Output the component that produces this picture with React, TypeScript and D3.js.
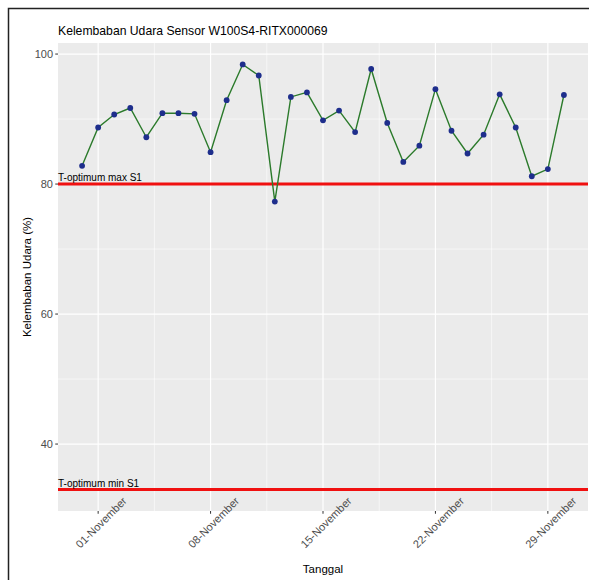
import React from "react";
import * as d3 from "d3";

const title = "Kelembaban Udara Sensor W100S4-RITX000069";
const xTitle = "Tanggal";
const yTitle = "Kelembaban Udara (%)";

const dates: string[] = [
  "2021-10-31", "2021-11-01", "2021-11-02", "2021-11-03", "2021-11-04", "2021-11-05",
  "2021-11-06", "2021-11-07", "2021-11-08", "2021-11-09", "2021-11-10", "2021-11-11",
  "2021-11-12", "2021-11-13", "2021-11-14", "2021-11-15", "2021-11-16", "2021-11-17",
  "2021-11-18", "2021-11-19", "2021-11-20", "2021-11-21", "2021-11-22", "2021-11-23",
  "2021-11-24", "2021-11-25", "2021-11-26", "2021-11-27", "2021-11-28", "2021-11-29",
  "2021-11-30",
];
const humidity: number[] = [
  82.8, 88.7, 90.7, 91.7, 87.2, 90.9, 90.9, 90.8, 84.9, 92.9, 98.4, 96.7,
  77.3, 93.4, 94.1, 89.8, 91.3, 88.0, 97.7, 89.4, 83.4, 85.9, 94.6, 88.2,
  84.7, 87.6, 93.8, 88.7, 81.2, 82.3, 93.7,
];
const thresholds = [
  { label: "T-optimum max S1", value: 80 },
  { label: "T-optimum min S1", value: 33 },
];
const xTickDates = ["2021-11-01", "2021-11-08", "2021-11-15", "2021-11-22", "2021-11-29"];
const xTickLabels = ["01-November", "08-November", "15-November", "22-November", "29-November"];
const xMinorDates = ["2021-11-04T12:00:00Z", "2021-11-11T12:00:00Z", "2021-11-18T12:00:00Z", "2021-11-25T12:00:00Z"];
const yTicks = [40, 60, 80, 100];
const yMinor = [50, 70, 90];

const W = 589;
const H = 580;
const P = { left: 58, right: 588, top: 43, bottom: 511 };

const parse = (s: string) => new Date(s.length === 10 ? s + "T00:00:00Z" : s);

export default function App() {
  const dayMs = 86400000;
  const d0 = parse(dates[0]).getTime();
  const d1 = parse(dates[dates.length - 1]).getTime();
  const x = d3
    .scaleUtc()
    .domain([new Date(d0 - 1.5 * dayMs), new Date(d1 + 1.5 * dayMs)])
    .range([P.left, P.right]);
  const y = d3.scaleLinear().domain([29.7, 101.7]).range([P.bottom, P.top]);

  const pts = dates.map((d, i) => ({ d: parse(d), v: humidity[i] }));
  const line = d3
    .line<{ d: Date; v: number }>()
    .x((p) => x(p.d))
    .y((p) => y(p.v));

  const font = "Liberation Sans, Arial, sans-serif";

  return (
    <svg
      width={W}
      height={H}
      style={{ position: "absolute", left: 0, top: 0, background: "#fff" }}
      fontFamily={font}
    >
      <rect x={0} y={0} width={W} height={H} fill="#fff" />
      <rect x={8.5} y={8.5} width={W + 20} height={H + 20} fill="none" stroke="#222" strokeWidth={1.5} />
      <text x={P.left} y={35} fontSize={12.2} fill="#000">
        {title}
      </text>
      <rect x={P.left} y={P.top} width={P.right - P.left} height={P.bottom - P.top} fill="#EBEBEB" />
      {yMinor.map((v) => (
        <line key={"ym" + v} x1={P.left} x2={P.right} y1={y(v)} y2={y(v)} stroke="#fff" strokeWidth={0.6} />
      ))}
      {xMinorDates.map((d) => (
        <line key={"xm" + d} x1={x(parse(d))} x2={x(parse(d))} y1={P.top} y2={P.bottom} stroke="#fff" strokeWidth={0.6} />
      ))}
      {yTicks.map((v) => (
        <line key={"yM" + v} x1={P.left} x2={P.right} y1={y(v)} y2={y(v)} stroke="#fff" strokeWidth={1.2} />
      ))}
      {xTickDates.map((d) => (
        <line key={"xM" + d} x1={x(parse(d))} x2={x(parse(d))} y1={P.top} y2={P.bottom} stroke="#fff" strokeWidth={1.2} />
      ))}
      {thresholds.map((t) => (
        <g key={t.label}>
          <line x1={P.left} x2={P.right} y1={y(t.value)} y2={y(t.value)} stroke="#F01010" strokeWidth={3} />
          <text x={P.left} y={y(t.value) - 3} fontSize={10} fill="#000">
            {t.label}
          </text>
        </g>
      ))}
      <path d={line(pts) || ""} fill="none" stroke="#2B7A2B" strokeWidth={1.4} />
      {pts.map((p, i) => (
        <circle key={i} cx={x(p.d)} cy={y(p.v)} r={2.9} fill="#1E2E8C" />
      ))}
      {yTicks.map((v) => (
        <g key={"yt" + v}>
          <line x1={P.left - 2.75} x2={P.left} y1={y(v)} y2={y(v)} stroke="#333" strokeWidth={1} />
          <text x={P.left - 5} y={y(v)} dy="0.35em" textAnchor="end" fontSize={11} fill="#4D4D4D">
            {v}
          </text>
        </g>
      ))}
      {xTickDates.map((d, i) => {
        const xx = x(parse(d));
        return (
          <g key={"xt" + d}>
            <line x1={xx} x2={xx} y1={P.bottom} y2={P.bottom + 2.75} stroke="#333" strokeWidth={1} />
            <text
              transform={`translate(${xx + 3},${522.5}) rotate(-45)`}
              textAnchor="middle"
              dy="0.35em"
              fontSize={11}
              fill="#4D4D4D"
            >
              {xTickLabels[i]}
            </text>
          </g>
        );
      })}
      <text x={(P.left + P.right) / 2} y={573} textAnchor="middle" fontSize={11.5} fill="#000">
        {xTitle}
      </text>
      <text
        transform={`translate(31,${(P.top + P.bottom) / 2}) rotate(-90)`}
        textAnchor="middle"
        fontSize={11.5}
        fill="#000"
      >
        {yTitle}
      </text>
    </svg>
  );
}
